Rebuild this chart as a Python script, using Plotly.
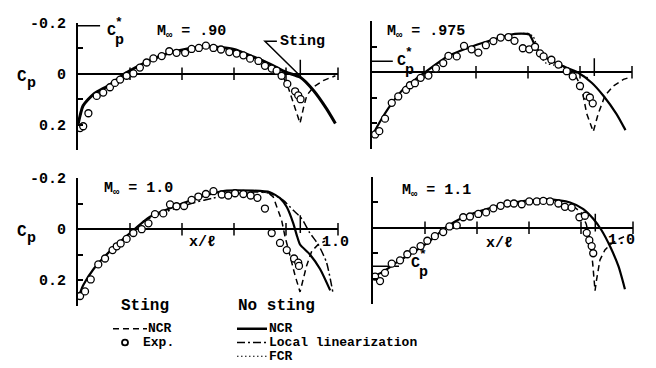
import plotly.graph_objects as go

W, H = 656, 368
FONT = "Liberation Mono, Courier New, monospace"

# ---------------- data ----------------
mach_labels = [".90", ".975", "1.0", "1.1"]
cp_star = [-0.188, -0.043, 0.0, 0.151]
x_ticks = [0.2, 0.4, 0.6, 0.8, 1.0]
y_label_ticks = [-0.2, 0.0, 0.2]
y_label_text = ["-0.2", "0", "0.2"]
y_minor_ticks = [-0.1, 0.1, 0.3]
sting_station = 0.855
sting_mark_y = [-0.055, 0.015]

# M = 0.90
exp90_x = [0.008, 0.02, 0.04, 0.072, 0.097, 0.123, 0.142, 0.162, 0.187, 0.213, 0.238, 0.264,
           0.29, 0.322, 0.351, 0.379, 0.412, 0.437, 0.465, 0.492, 0.521, 0.55, 0.582, 0.61,
           0.636, 0.662, 0.694, 0.719, 0.745, 0.764, 0.783, 0.805, 0.835, 0.847, 0.856]
exp90_y = [0.213, 0.206, 0.155, 0.087, 0.074, 0.053, 0.036, 0.023, 0.008, -0.001, -0.024, -0.044,
           -0.06, -0.069, -0.088, -0.082, -0.082, -0.097, -0.101, -0.11, -0.101, -0.095, -0.085, -0.079,
           -0.072, -0.059, -0.05, -0.031, -0.02, -0.012, 0.008, 0.04, 0.069, 0.085, 0.1]
ncr90_x = [0.0, 0.02, 0.06, 0.12, 0.18, 0.26, 0.34, 0.42, 0.5, 0.6, 0.66, 0.74, 0.80, 0.855, 0.905, 0.955, 0.99]
ncr90_y = [0.2, 0.125, 0.08, 0.045, 0.0, -0.044, -0.078, -0.097, -0.107, -0.095, -0.072, -0.037, -0.006,
           0.014, 0.065, 0.136, 0.195]
sting90_x = [0.70, 0.74, 0.77, 0.79, 0.81, 0.835, 0.854, 0.867, 0.88, 0.905, 0.943, 0.99]
sting90_y = [-0.058, -0.037, -0.014, 0.015, 0.058, 0.135, 0.194, 0.135, 0.085, 0.053, 0.027, 0.008]

# M = 0.975
exp975_x = [0.012, 0.028, 0.05, 0.076, 0.101, 0.131, 0.146, 0.165, 0.187, 0.217, 0.246, 0.274,
            0.294, 0.326, 0.354, 0.383, 0.409, 0.438, 0.467, 0.495, 0.525, 0.548, 0.58, 0.605,
            0.627, 0.646, 0.66, 0.69, 0.717, 0.749, 0.772, 0.8, 0.826, 0.838, 0.849]
exp975_y = [0.244, 0.231, 0.182, 0.12, 0.095, 0.069, 0.051, 0.043, 0.022, 0.013, -0.015, -0.036,
            -0.064, -0.062, -0.103, -0.09, -0.077, -0.106, -0.122, -0.136, -0.138, -0.123, -0.094, -0.09,
            -0.1, -0.074, -0.062, -0.049, -0.03, -0.004, 0.016, 0.054, 0.092, 0.099, 0.122]
ncr975_x = [0.0, 0.03, 0.07, 0.12, 0.2, 0.29, 0.39, 0.48, 0.53, 0.57, 0.605, 0.62, 0.635, 0.66,
            0.72, 0.79, 0.845, 0.89, 0.94, 0.975]
ncr975_y = [0.25, 0.195, 0.131, 0.067, 0.003, -0.062, -0.103, -0.132, -0.147, -0.151, -0.148, -0.12,
            -0.09, -0.062, -0.03, 0.0, 0.041, 0.092, 0.163, 0.227]
fcr975_x = [0.55, 0.6, 0.62, 0.635, 0.65, 0.67, 0.7, 0.75, 0.8, 0.83]
fcr975_y = [-0.15, -0.152, -0.14, -0.1, -0.06, -0.035, -0.028, -0.012, 0.008, 0.022]
sting975_x = [0.72, 0.76, 0.787, 0.806, 0.826, 0.851, 0.87, 0.896, 0.928, 0.967, 0.995]
sting975_y = [-0.03, -0.01, 0.022, 0.06, 0.163, 0.233, 0.163, 0.092, 0.054, 0.028, 0.019]

# M = 1.0
exp100_x = [0.008, 0.027, 0.049, 0.078, 0.104, 0.133, 0.149, 0.164, 0.187, 0.213, 0.245, 0.271,
            0.296, 0.328, 0.354, 0.379, 0.408, 0.437, 0.463, 0.492, 0.521, 0.553, 0.578, 0.604,
            0.636, 0.664, 0.69, 0.719, 0.745, 0.777, 0.803, 0.831, 0.847, 0.85]
exp100_y = [0.262, 0.244, 0.197, 0.138, 0.115, 0.082, 0.067, 0.056, 0.038, 0.015, 0.0, -0.023,
            -0.059, -0.062, -0.097, -0.09, -0.091, -0.115, -0.128, -0.138, -0.149, -0.136, -0.132, -0.141,
            -0.138, -0.132, -0.123, -0.081, 0.015, 0.054, 0.082, 0.115, 0.131, 0.144]
ncr100_x = [0.0, 0.02, 0.06, 0.123, 0.2, 0.277, 0.367, 0.469, 0.572, 0.674, 0.738, 0.777, 0.803,
            0.828, 0.841, 0.854, 0.892, 0.931, 0.97]
ncr100_y = [0.272, 0.22, 0.156, 0.086, 0.015, -0.049, -0.087, -0.126, -0.151, -0.151, -0.145, -0.122,
            -0.087, -0.023, 0.022, 0.06, 0.099, 0.156, 0.24]
loclin100_x = [0.25, 0.3, 0.37, 0.45, 0.52, 0.6, 0.68, 0.74, 0.79, 0.828, 0.86, 0.892, 0.924, 0.956, 0.98]
loclin100_y = [-0.03, -0.055, -0.08, -0.105, -0.122, -0.138, -0.146, -0.14, -0.113, -0.074, -0.042,
               0.015, 0.06, 0.131, 0.246]
sting100_x = [0.70, 0.735, 0.751, 0.764, 0.783, 0.796, 0.815, 0.835, 0.854, 0.867, 0.879, 0.899, 0.924, 0.95]
sting100_y = [-0.15, -0.14, -0.126, -0.087, -0.036, 0.028, 0.105, 0.182, 0.246, 0.195, 0.144, 0.086, 0.06, 0.047]

# M = 1.1
exp110_x = [0.008, 0.027, 0.046, 0.072, 0.104, 0.132, 0.155, 0.183, 0.209, 0.238, 0.27, 0.294,
            0.322, 0.347, 0.373, 0.405, 0.435, 0.463, 0.491, 0.517, 0.542, 0.572, 0.601, 0.63,
            0.655, 0.681, 0.713, 0.738, 0.764, 0.794, 0.815, 0.822, 0.832, 0.841, 0.847]
exp110_y = [0.192, 0.209, 0.177, 0.141, 0.128, 0.104, 0.09, 0.072, 0.051, 0.033, 0.017, -0.005,
            -0.009, -0.041, -0.044, -0.054, -0.06, -0.076, -0.086, -0.095, -0.095, -0.092, -0.103, -0.103,
            -0.105, -0.103, -0.095, -0.082, -0.079, -0.041, -0.047, 0.02, 0.049, 0.072, 0.1]
ncr110_x = [0.0, 0.04, 0.091, 0.206, 0.283, 0.347, 0.437, 0.54, 0.668, 0.758, 0.809, 0.847, 0.879,
            0.912, 0.944, 0.969]
ncr110_y = [0.19, 0.172, 0.136, 0.062, -0.003, -0.041, -0.073, -0.099, -0.112, -0.099, -0.073, -0.035,
            0.01, 0.074, 0.151, 0.241]
sting110_x = [0.77, 0.80, 0.82, 0.835, 0.845, 0.854, 0.86, 0.873, 0.892, 0.918, 0.95, 0.982]
sting110_y = [-0.085, -0.06, -0.015, 0.049, 0.14, 0.247, 0.203, 0.126, 0.087, 0.062, 0.042, 0.029]

# ---------------- layout helpers ----------------
def pxx(x):
    return x / W

def pxy(y):
    return 1 - y / H

panels = [
    dict(x0=78, top=16, left_labels=True, cplen=0.085),
    dict(x0=372, top=14.5, left_labels=False, cplen=0.08),
    dict(x0=78, top=174.5, left_labels=True, cplen=0.0),
    dict(x0=373, top=173, left_labels=False, cplen=0.1),
]
PW, PH = 260, 130

fig = go.Figure()
layout = dict(width=W, height=H, margin=dict(l=0, r=0, t=0, b=0), autosize=False,
              paper_bgcolor="white", plot_bgcolor="white", showlegend=False)

tfont = dict(family=FONT, size=15, color="black", weight="bold")

for i, p in enumerate(panels):
    sfx = "" if i == 0 else str(i + 1)
    layout["xaxis" + sfx] = dict(domain=[pxx(p["x0"]), pxx(p["x0"] + PW)], range=[0, 1.0],
                                 visible=False, anchor="y" + sfx, fixedrange=True)
    layout["yaxis" + sfx] = dict(domain=[pxy(p["top"] + PH), pxy(p["top"])], range=[0.3, -0.2],
                                 anchor="x" + sfx, showline=True, linewidth=2, linecolor="black",
                                 ticks="inside", tickmode="array", tickvals=y_label_ticks,
                                 ticktext=y_label_text,
                                 ticklen=5, tickwidth=1.5, tickcolor="black",
                                 minor=dict(tickmode="array", tickvals=y_minor_ticks, ticks="inside",
                                            ticklen=5, tickwidth=1.5, tickcolor="black", showgrid=False),
                                 showticklabels=p["left_labels"], tickfont=tfont,
                                 ticklabelstandoff=7,
                                 zeroline=True, zerolinewidth=2, zerolinecolor="black",
                                 showgrid=False, fixedrange=True)

series = [
    dict(exp=(exp90_x, exp90_y), ncr=(ncr90_x, ncr90_y), sting=(sting90_x, sting90_y), w=3.0),
    dict(exp=(exp975_x, exp975_y), ncr=(ncr975_x, ncr975_y), sting=(sting975_x, sting975_y),
         fcr=(fcr975_x, fcr975_y), w=2.2),
    dict(exp=(exp100_x, exp100_y), ncr=(ncr100_x, ncr100_y), sting=(sting100_x, sting100_y),
         loclin=(loclin100_x, loclin100_y), w=2.2),
    dict(exp=(exp110_x, exp110_y), ncr=(ncr110_x, ncr110_y), sting=(sting110_x, sting110_y), w=2.2),
]

for i, (p, s) in enumerate(zip(panels, series)):
    sfx = "" if i == 0 else str(i + 1)
    xa, ya = "x" + sfx, "y" + sfx
    common = dict(xaxis=xa, yaxis=ya, hoverinfo="skip", cliponaxis=False)
    fig.add_trace(go.Scatter(x=x_ticks, y=[0] * len(x_ticks), mode="markers",
                             marker=dict(symbol="line-ns", size=9, line=dict(width=1.5, color="black")),
                             **common))
    fig.add_trace(go.Scatter(x=[sting_station, sting_station], y=sting_mark_y, mode="lines",
                             line=dict(color="black", width=1.5), **common))
    if p["cplen"] > 0:
        fig.add_trace(go.Scatter(x=[0, p["cplen"]], y=[cp_star[i], cp_star[i]], mode="lines",
                                 line=dict(color="black", width=1.5), **common))
    if "fcr" in s:
        fig.add_trace(go.Scatter(x=s["fcr"][0], y=s["fcr"][1], mode="lines",
                                 line=dict(color="black", width=1.3, dash="1.5px,2.5px",
                                           shape="spline", smoothing=0.6), **common))
    if "loclin" in s:
        fig.add_trace(go.Scatter(x=s["loclin"][0], y=s["loclin"][1], mode="lines",
                                 line=dict(color="black", width=1.5, dash="8px,3px,2px,3px",
                                           shape="spline", smoothing=0.6), **common))
    fig.add_trace(go.Scatter(x=s["sting"][0], y=s["sting"][1], mode="lines",
                             line=dict(color="black", width=1.5, dash="6px,4px"), **common))
    fig.add_trace(go.Scatter(x=s["ncr"][0], y=s["ncr"][1], mode="lines",
                             line=dict(color="black", width=s["w"], shape="spline", smoothing=0.6),
                             **common))
    fig.add_trace(go.Scatter(x=s["exp"][0], y=s["exp"][1], mode="markers",
                             marker=dict(symbol="circle", size=7, color="white",
                                         line=dict(width=1.3, color="black")), **common))

# ---------------- annotations ----------------
ann = []
def A(text, x, y, xref, yref, size=15, xanchor="center", yanchor="middle", xshift=0, yshift=0):
    ann.append(dict(text=text, x=x, y=y, xref=xref, yref=yref, showarrow=False,
                    font=dict(family=FONT, size=size, color="black", weight="bold"),
                    xanchor=xanchor, yanchor=yanchor, xshift=xshift, yshift=yshift))

mach_pos = [(0.296, -0.165), (0.05, -0.158), (0.092, -0.158), (0.104, -0.142)]
for i, (mx, my) in enumerate(mach_pos):
    sfx = "" if i == 0 else str(i + 1)
    A("M<sub>∞</sub> = " + mach_labels[i], mx, my, "x" + sfx, "y" + sfx, xanchor="left")

cpl_pos = [(0, 0.128, -0.165), (1, 0.113, -0.043), (3, 0.162, 0.139)]
for i, cx, cy in cpl_pos:
    sfx = "" if i == 0 else str(i + 1)
    A("C", cx, cy, "x" + sfx, "y" + sfx)
    A("*", cx, cy, "x" + sfx, "y" + sfx, size=13, xshift=8, yshift=9)
    A("p", cx, cy, "x" + sfx, "y" + sfx, size=15, xshift=8, yshift=-9)

for yy in (71, 229):
    A("C", pxx(22), pxy(yy), "paper", "paper", size=16)
    A("p", pxx(31), pxy(yy + 7), "paper", "paper", size=15)

A("x/ℓ", 0.477, 0.054, "x3", "y3")
A("x/ℓ", 0.485, 0.062, "x4", "y4")
A("1.0", 0.99, 0.054, "x3", "y3")
A("1.0", 0.955, 0.05, "x4", "y4")

A("Sting", 0.77, -0.127, "x", "y", xanchor="left")

LS = 13
R1, R2, R3 = 328, 342, 356
A("Sting", pxx(145), pxy(305), "paper", "paper", size=16)
A("No sting", pxx(236), pxy(305), "paper", "paper", size=16, xanchor="left")
A("NCR", pxx(146), pxy(R1), "paper", "paper", size=LS, xanchor="left")
A("Exp.", pxx(141), pxy(R2), "paper", "paper", size=LS, xanchor="left")
A("NCR", pxx(267), pxy(R1), "paper", "paper", size=LS, xanchor="left")
A("Local linearization", pxx(267), pxy(R2), "paper", "paper", size=LS, xanchor="left")
A("FCR", pxx(267), pxy(R3), "paper", "paper", size=LS, xanchor="left")

layout["annotations"] = ann

shapes = [
    dict(type="path", xref="x", yref="y", path="M 0.765,-0.127 L 0.719,-0.127 L 0.85,0.004",
         line=dict(color="black", width=1.5)),
    dict(type="line", xref="paper", yref="paper", x0=pxx(113), x1=pxx(147), y0=pxy(R1), y1=pxy(R1),
         line=dict(color="black", width=1.5, dash="6px,4px")),
    dict(type="circle", xref="paper", yref="paper", x0=pxx(122), x1=pxx(128), y0=pxy(R2 + 3), y1=pxy(R2 - 3),
         line=dict(color="black", width=1.8), fillcolor="white"),
    dict(type="line", xref="paper", yref="paper", x0=pxx(237), x1=pxx(267), y0=pxy(R1), y1=pxy(R1),
         line=dict(color="black", width=2.5)),
    dict(type="line", xref="paper", yref="paper", x0=pxx(237), x1=pxx(267), y0=pxy(R2), y1=pxy(R2),
         line=dict(color="black", width=1.5, dash="8px,3px,2px,3px")),
    dict(type="line", xref="paper", yref="paper", x0=pxx(237), x1=pxx(267), y0=pxy(R3), y1=pxy(R3),
         line=dict(color="black", width=1.2, dash="1.5px,2.5px")),
]
layout["shapes"] = shapes

fig.update_layout(**layout)
fig.write_html("out.html")
